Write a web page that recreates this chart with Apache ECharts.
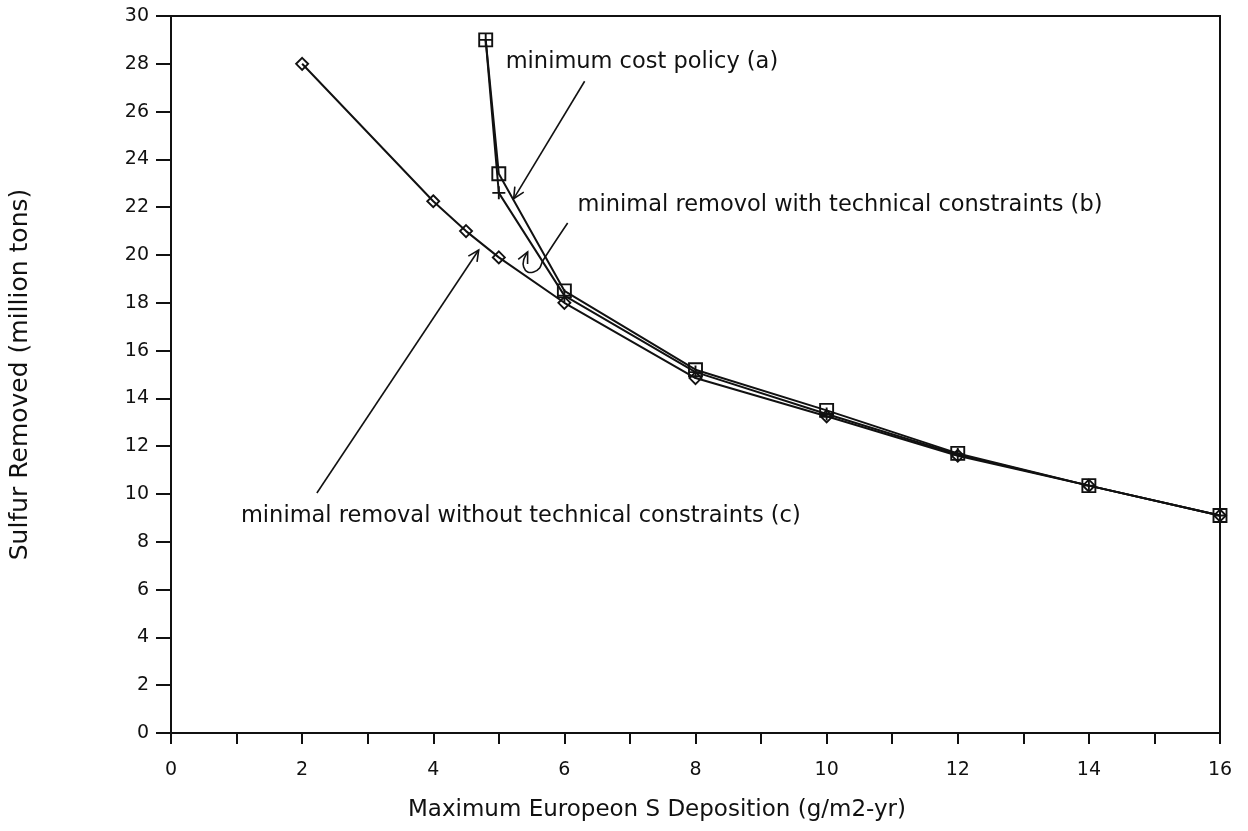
<!DOCTYPE html>
<html>
<head>
<meta charset="utf-8">
<title>Sulfur Removed vs Maximum European S Deposition</title>
<script src="https://cdn.jsdelivr.net/npm/echarts@6/dist/echarts.min.js"></script>
<style>
  html, body { margin: 0; padding: 0; background: #fff; }
  #chart { width: 1248px; height: 831px; }
</style>
</head>
<body>
<div id="chart"></div>
<script>
// Deposition targets (g/m2-yr) for the two constrained/cost curves
const depositionAB = [4.8, 5, 6, 8, 10, 12, 14, 16];
// (a) minimum cost policy — sulfur removed (million tons)
const minimumCost = [29.0, 23.4, 18.5, 15.2, 13.5, 11.7, 10.35, 9.1];
// (b) minimal removal with technical constraints
const withConstraints = [29.0, 22.6, 18.3, 15.1, 13.35, 11.65, 10.35, 9.1];
// Deposition targets for the unconstrained curve
const depositionC = [2, 4, 4.5, 5, 6, 8, 10, 12, 14, 16];
// (c) minimal removal without technical constraints
const withoutConstraints = [28.0, 22.25, 21.0, 19.9, 18.0, 14.85, 13.25, 11.6, 10.35, 9.1];

// Axis ticks
const xTicks = [0, 1, 2, 3, 4, 5, 6, 7, 8, 9, 10, 11, 12, 13, 14, 15, 16];
const yTicks = [0, 2, 4, 6, 8, 10, 12, 14, 16, 18, 20, 22, 24, 26, 28, 30];

// Annotation texts
const labelA = 'minimum cost policy (a)';
const labelB = 'minimal removol with technical constraints (b)';
const labelC = 'minimal removal without technical constraints (c)';

const FONT = '"DejaVu Sans", "Liberation Sans", sans-serif';
const INK = '#111';

function pairs(xs, ys) { return xs.map((x, i) => [x, ys[i]]); }

const SQUARE = 'path://M0,0H10V10H0Z';
const DIAMOND = 'path://M5,0L10,5L5,10L0,5Z';
const PLUS = 'path://M0,5H10M5,0V10';

function lineSeries(name, data, symbol, size, z) {
  return {
    name: name,
    type: 'line',
    data: data,
    symbol: symbol,
    symbolSize: size,
    showAllSymbol: true,
    z: z,
    animation: false,
    lineStyle: { color: INK, width: 2 },
    itemStyle: { color: 'rgba(0,0,0,0)', borderColor: INK, borderWidth: 1.9 },
    emphasis: { disabled: true }
  };
}

const chart = echarts.init(document.getElementById('chart'), null, { renderer: 'canvas' });

chart.setOption({
  backgroundColor: '#fff',
  animation: false,
  grid: {
    left: 170, right: 28, top: 16, bottom: 98,
    show: true, borderColor: INK, borderWidth: 2, backgroundColor: 'transparent'
  },
  xAxis: {
    type: 'value',
    min: xTicks[0], max: xTicks[xTicks.length - 1], interval: 1,
    name: 'Maximum Europeon S Deposition (g/m2-yr)',
    nameLocation: 'middle',
    nameGap: 66,
    nameTextStyle: { fontFamily: FONT, fontSize: 23, color: INK, padding: [0, 77, 0, 0] },
    axisLine: { lineStyle: { color: INK, width: 2 } },
    axisTick: { show: true, inside: false, length: 11, lineStyle: { color: INK, width: 2 } },
    axisLabel: {
      margin: 28, fontFamily: FONT, fontSize: 19, color: INK,
      formatter: v => (v % 2 === 0 ? String(v) : '')
    },
    splitLine: { show: false }
  },
  yAxis: {
    type: 'value',
    min: yTicks[0], max: yTicks[yTicks.length - 1], interval: 2,
    name: 'Sulfur Removed (million tons)',
    nameLocation: 'middle',
    nameGap: 138,
    nameTextStyle: { fontFamily: FONT, fontSize: 25, color: INK },
    axisLine: { lineStyle: { color: INK, width: 2 } },
    axisTick: { show: true, inside: false, length: 15, lineStyle: { color: INK, width: 2 } },
    axisLabel: { margin: 22, fontFamily: FONT, fontSize: 19, color: INK },
    splitLine: { show: false }
  },
  series: [
    lineSeries('without technical constraints (c)', pairs(depositionC, withoutConstraints), DIAMOND, [12, 12], 2),
    lineSeries('with technical constraints (b)', pairs(depositionAB, withConstraints), PLUS, [13, 13], 3),
    lineSeries('minimum cost policy (a)', pairs(depositionAB, minimumCost), SQUARE, [13, 13], 4)
  ]
});

// Annotation placement, in data units of the plot
const notes = [
  { text: labelA, at: [5.105, 28.05], path: [[6.309, 27.27], [5.227, 22.36]] },
  { text: labelB, at: [6.202, 22.07],
    path: [[6.050, 21.34], [5.669, 19.75], [5.623, 19.46], [5.531, 19.29],
           [5.440, 19.29], [5.379, 19.50], [5.379, 19.79], [5.440, 20.13]] },
  { text: labelC, at: [1.067, 9.08], path: [[2.225, 10.04], [4.693, 20.21]] }
];

function toPx(p) { return chart.convertToPixel({ gridIndex: 0 }, p); }

function arrowHead(tip, from, len, ang) {
  const dx = from[0] - tip[0], dy = from[1] - tip[1];
  const a = Math.atan2(dy, dx);
  const p1 = [tip[0] + len * Math.cos(a + ang), tip[1] + len * Math.sin(a + ang)];
  const p2 = [tip[0] + len * Math.cos(a - ang), tip[1] + len * Math.sin(a - ang)];
  return [p1, tip, p2];
}

const graphics = [];
notes.forEach(n => {
  const pts = n.path.map(toPx);
  graphics.push({
    type: 'polyline', silent: true, z: 10,
    shape: { points: pts, smooth: n.path.length > 2 ? 0.3 : 0 },
    style: { stroke: INK, lineWidth: 1.6, fill: null }
  });
  const tip = pts[pts.length - 1], prev = pts[pts.length - 2];
  graphics.push({
    type: 'polyline', silent: true, z: 10,
    shape: { points: arrowHead(tip, prev, 12, 0.45) },
    style: { stroke: INK, lineWidth: 1.6, fill: null }
  });
  const t = toPx(n.at);
  graphics.push({
    type: 'text', silent: true, z: 10,
    x: t[0], y: t[1],
    style: { text: n.text, fill: INK, font: '22.5px ' + FONT, textAlign: 'left', textVerticalAlign: 'middle' }
  });
});

chart.setOption({ graphic: graphics });
</script>
</body>
</html>
